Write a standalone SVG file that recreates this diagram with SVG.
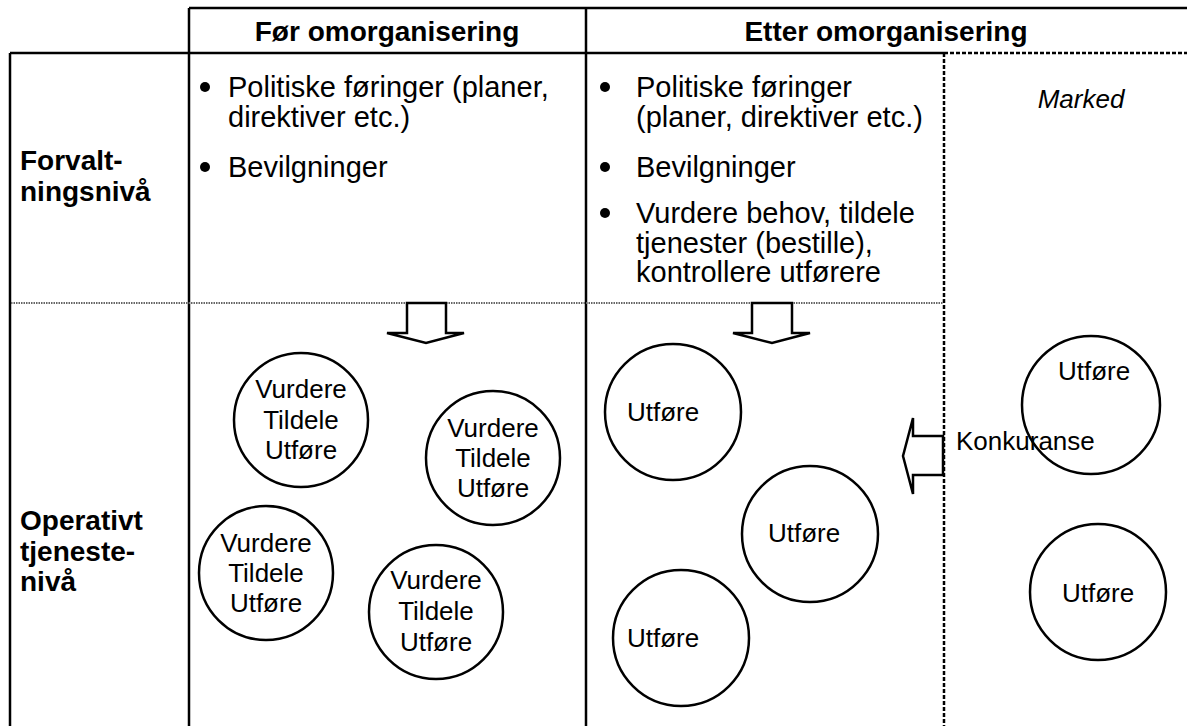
<svg xmlns="http://www.w3.org/2000/svg" width="1187" height="726" viewBox="0 0 1187 726">
<style>
text{font-family:"Liberation Sans",Arial,sans-serif;fill:#000}
.b{font-size:28px;font-weight:bold}
.t{font-size:29px}
.c{font-size:26px}
.ce{text-anchor:middle}
.solid{stroke:#000;stroke-width:2.5;fill:none}
.dash{stroke:#000;stroke-width:2.5;stroke-dasharray:4 2;fill:none}
.dot{stroke:#666;stroke-width:2;stroke-dasharray:1.5 1;fill:none}
.circ{stroke:#000;stroke-width:2.5;fill:none}
.arr{stroke:#000;stroke-width:2.5;fill:#fff;stroke-linejoin:miter}
</style>
<rect width="1187" height="726" fill="#fff"/>
<g id="grid">
<line class="solid" x1="189" y1="8" x2="1187" y2="8"/>
<line class="solid" x1="189" y1="8" x2="189" y2="726"/>
<line class="solid" x1="586" y1="8" x2="586" y2="726"/>
<line class="solid" x1="10" y1="53" x2="944" y2="53"/>
<line class="solid" x1="10" y1="53" x2="10" y2="726"/>
<line class="dash" x1="944" y1="53" x2="1187" y2="53"/>
<line class="dash" x1="944" y1="53" x2="944" y2="726"/>
<line class="dot" x1="11" y1="303" x2="943" y2="303"/>
</g>
<g id="headers">
<text class="b ce" x="387" y="41">Før omorganisering</text>
<text class="b ce" x="886" y="41">Etter omorganisering</text>
</g>
<g id="row-labels">
<text class="b" x="20" y="170">Forvalt-</text>
<text class="b" x="20" y="201">ningsnivå</text>
<text class="b" x="20" y="530">Operativt</text>
<text class="b" x="20" y="561">tjeneste-</text>
<text class="b" x="20" y="591">nivå</text>
</g>
<g id="before-bullets">
<circle cx="205" cy="87" r="5"/>
<text class="t" x="228" y="97">Politiske føringer (planer,</text>
<text class="t" x="228" y="127">direktiver etc.)</text>
<circle cx="205" cy="167" r="5"/>
<text class="t" x="228" y="177">Bevilgninger</text>
</g>
<g id="after-bullets">
<circle cx="605" cy="87" r="5"/>
<text class="t" x="636" y="97">Politiske føringer</text>
<text class="t" x="636" y="127">(planer, direktiver etc.)</text>
<circle cx="605" cy="167" r="5"/>
<text class="t" x="636" y="177">Bevilgninger</text>
<circle cx="605" cy="213" r="5"/>
<text class="t" x="636" y="223">Vurdere behov, tildele</text>
<text class="t" x="636" y="253">tjenester (bestille),</text>
<text class="t" x="636" y="282">kontrollere utførere</text>
</g>
<g id="marked">
<text class="c ce" x="1081" y="108" font-style="italic">Marked</text>
</g>
<g id="connectors">
<polygon class="arr" points="407,303 446,303 446,333 464,333 426,343 387,333 407,333"/>
<polygon class="arr" points="752,303 792,303 792,333 810,333 772,343 733,333 752,333"/>
<polygon class="arr" points="943,436 913,436 913,418 903,456 913,494 913,475 943,475"/>
</g>
<g id="konkuranse">
<text class="c" x="956" y="450">Konkuranse</text>
</g>
<g id="b1"><circle class="circ" cx="301" cy="420" r="67"/>
<text class="c ce" x="301" y="398">Vurdere</text><text class="c ce" x="301" y="429">Tildele</text><text class="c ce" x="301" y="459">Utføre</text></g>
<g id="b2"><circle class="circ" cx="493" cy="458" r="67"/>
<text class="c ce" x="493" y="437">Vurdere</text><text class="c ce" x="493" y="467">Tildele</text><text class="c ce" x="493" y="497">Utføre</text></g>
<g id="b3"><circle class="circ" cx="266" cy="573" r="67"/>
<text class="c ce" x="266" y="552">Vurdere</text><text class="c ce" x="266" y="582">Tildele</text><text class="c ce" x="266" y="612">Utføre</text></g>
<g id="b4"><circle class="circ" cx="436" cy="612" r="67"/>
<text class="c ce" x="436" y="589">Vurdere</text><text class="c ce" x="436" y="620">Tildele</text><text class="c ce" x="436" y="651">Utføre</text></g>
<g id="a1"><circle class="circ" cx="673" cy="412" r="68"/>
<text class="c" x="627" y="421">Utføre</text></g>
<g id="a2"><circle class="circ" cx="810" cy="534" r="68"/>
<text class="c" x="768" y="542">Utføre</text></g>
<g id="a3"><circle class="circ" cx="681" cy="638" r="68"/>
<text class="c" x="627" y="647">Utføre</text></g>
<g id="m1"><circle class="circ" cx="1091" cy="405" r="69"/>
<text class="c" x="1058" y="380">Utføre</text></g>
<g id="m2"><circle class="circ" cx="1098" cy="592" r="68"/>
<text class="c" x="1062" y="602">Utføre</text></g>
</svg>
